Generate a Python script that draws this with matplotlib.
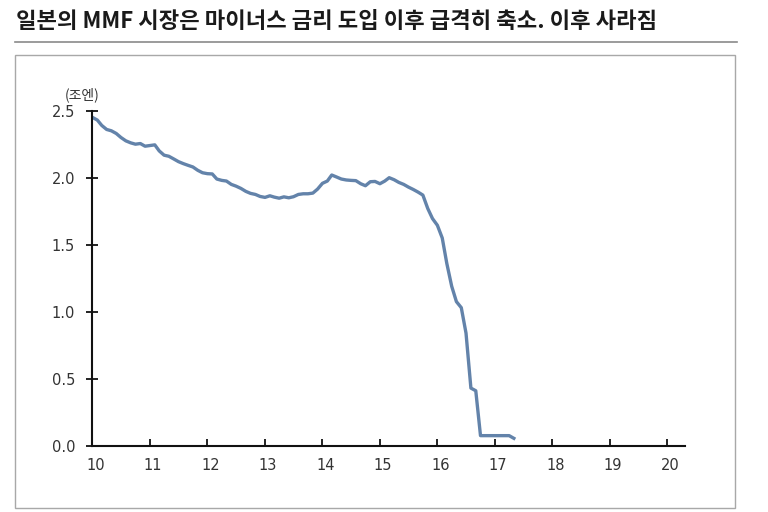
import matplotlib.pyplot as plt
import matplotlib.dates as mdates
import matplotlib.transforms as mtransforms
from matplotlib.patches import Rectangle
from matplotlib.lines import Line2D
import numpy as np
import pandas as pd

plt.rcParams['font.family'] = ['Noto Sans CJK KR', 'DejaVu Sans']

# Japan MMF balance, monthly from Jan 2010 (trillion yen)
mmf = [
    2.45, 2.43, 2.39, 2.36, 2.35, 2.33, 2.30, 2.275, 2.26, 2.25, 2.255, 2.235,
    2.24, 2.245, 2.20, 2.168, 2.16, 2.14, 2.12, 2.105, 2.092, 2.08, 2.055, 2.037,
    2.03, 2.028, 1.99, 1.98, 1.975, 1.95, 1.937, 1.92, 1.898, 1.883, 1.875, 1.86,
    1.853, 1.865, 1.855, 1.847, 1.857, 1.85, 1.858, 1.875, 1.88, 1.88, 1.885, 1.915,
    1.958, 1.975, 2.02, 2.005, 1.99, 1.983, 1.98, 1.978, 1.955, 1.94, 1.97, 1.972,
    1.955, 1.975, 2.0, 1.985, 1.965, 1.95, 1.93, 1.912, 1.892, 1.87, 1.77, 1.695,
    1.645, 1.55, 1.36, 1.19, 1.075, 1.03, 0.84, 0.43, 0.41, 0.075, 0.075, 0.075,
    0.075, 0.075, 0.075, 0.075, 0.055,
]
months = pd.date_range('2010-01-01', periods=len(mmf), freq='MS')

y_ticks = [0.0, 0.5, 1.0, 1.5, 2.0, 2.5]
years = list(range(2010, 2021))

title = '일본의 MMF 시장은 마이너스 금리 도입 이후 급격히 축소. 이후 사라짐'
unit = '(조엔)'

LINE = '#6383aa'
TXT = '#333333'
NARROW = ['Liberation Sans Narrow', 'DejaVu Sans']

fig = plt.figure(figsize=(7.68, 5.12), dpi=100)

# title and rule under it
fig.text(0.021, 0.958, title, fontsize=16, fontweight='bold', color='#1a1a1a',
         ha='left', va='center')
fig.add_artist(Line2D([0.019, 0.96], [0.917, 0.917], color='#8a8a8a', lw=1.2,
                      transform=fig.transFigure))

# outer frame of the chart
fig.add_artist(Rectangle((0.019, 0.008), 0.938, 0.885, transform=fig.transFigure,
                         fill=False, edgecolor='#a8a8a8', lw=1.0))

ax = fig.add_axes([0.1204, 0.1295, 0.7715, 0.6543])
ax.plot(months, mmf, color=LINE, lw=2.4, solid_joinstyle='round')

ax.set_ylim(0, 2.5)
ax.set_xlim(pd.Timestamp('2010-01-01'), pd.Timestamp('2020-04-22'))
ax.set_yticks(y_ticks)
ax.set_yticklabels([f'{v:.1f}' for v in y_ticks], family=NARROW, fontsize=10.5, color=TXT)
ax.set_xticks([pd.Timestamp(f'{y}-01-01') for y in years])
ax.xaxis.set_major_formatter(mdates.DateFormatter('%y'))
for lab in ax.get_xticklabels():
    lab.set_family(NARROW)
    lab.set_fontsize(10.5)
    lab.set_color(TXT)

for s in ['top', 'right']:
    ax.spines[s].set_visible(False)
for s in ['left', 'bottom']:
    ax.spines[s].set_linewidth(1.5)
    ax.spines[s].set_color('#111111')

ax.tick_params(axis='y', direction='inout', length=9, width=1.3, pad=8, colors='#111111',
               labelcolor=TXT)
ax.tick_params(axis='x', direction='in', length=5, width=1.3, pad=9, colors='#111111',
               labelcolor=TXT)

# x labels sit a little to the right of their ticks
shift = mtransforms.ScaledTranslation(3 / 100, 0, fig.dpi_scale_trans)
for lab in ax.get_xticklabels():
    lab.set_transform(lab.get_transform() + shift)

ax.text(-0.018, 1.025, unit, transform=ax.transAxes, fontsize=10, color=TXT,
        ha='center', va='bottom')

fig.savefig('out.png', dpi=100)
plt.close(fig)
